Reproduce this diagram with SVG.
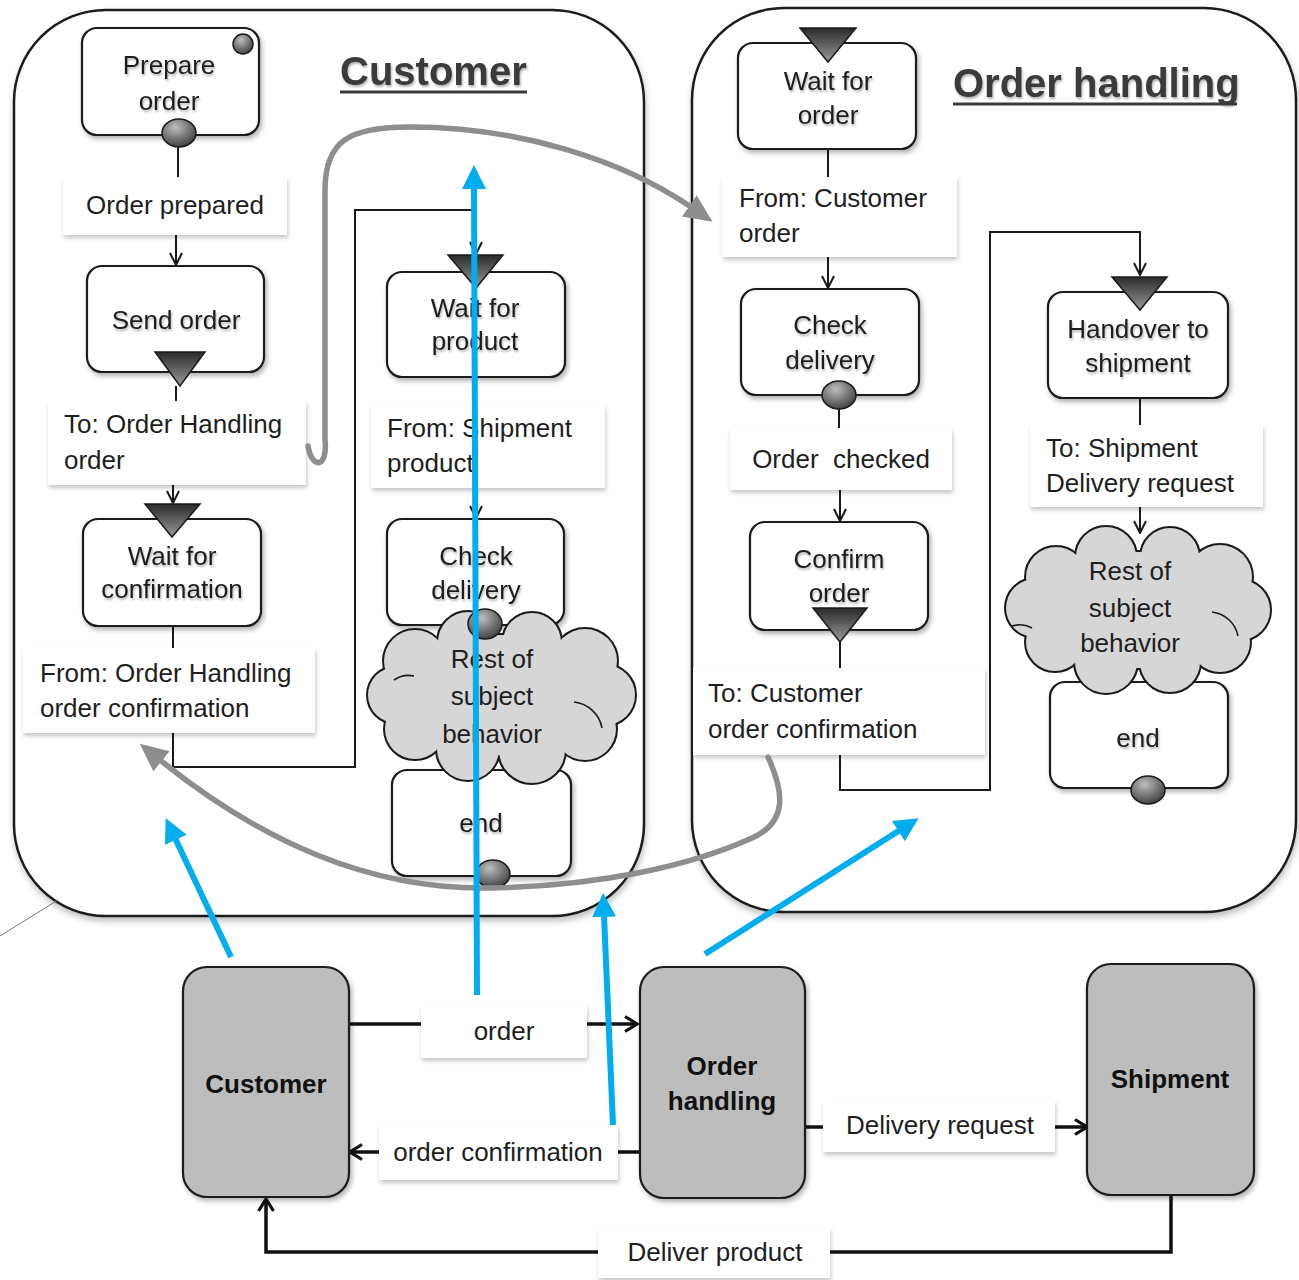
<svg xmlns="http://www.w3.org/2000/svg" width="1299" height="1280" viewBox="0 0 1299 1280">
<defs>
<style>
 text { font-family: "Liberation Sans", Arial, sans-serif; fill:#1e1e1e; font-size:26px; }
 .c { text-anchor: middle; }
 .title { font-size:40px; font-weight:bold; fill:#3a3a3a; filter:url(#txtShadow); }
 .ntext { filter:url(#txtShadow); }
 .bold { font-weight:bold; fill:#111; }
 .lane { fill:#fff; stroke:#1a1a1a; stroke-width:2.5; filter:url(#laneShadow); }
 .state { fill:#fff; stroke:#1a1a1a; stroke-width:2.2; filter:url(#soft); }
 .label { fill:#fff; filter:url(#lblShadow); }
 .flow { fill:none; stroke:#1a1a1a; stroke-width:2; }
 .msg { fill:none; stroke:#111; stroke-width:3.5; }
 .subject { fill:#bdbdbd; stroke:#1a1a1a; stroke-width:2.2; filter:url(#soft); }
 .hint { fill:none; stroke:#8e8e8e; stroke-width:5.5; stroke-linecap:round; }
 .map { fill:none; stroke:#00aeef; stroke-width:6; }
 .tri { fill:url(#triGrad); stroke:#1a1a1a; stroke-width:1.5; }
 .dot { fill:url(#dotGrad); stroke:#1a1a1a; stroke-width:1.5; }
 .uline { stroke:#3a3a3a; stroke-width:3; }
 .crease { fill:none; stroke:#1a1a1a; stroke-width:1.6; }
</style>
<filter id="soft" x="-20%" y="-20%" width="140%" height="140%">
 <feDropShadow dx="2" dy="3" stdDeviation="2.5" flood-color="#000" flood-opacity="0.3"/>
</filter>
<filter id="laneShadow" x="-5%" y="-5%" width="110%" height="110%">
 <feDropShadow dx="1" dy="4" stdDeviation="3" flood-color="#000" flood-opacity="0.25"/>
</filter>
<filter id="lblShadow" x="-10%" y="-20%" width="120%" height="150%">
 <feDropShadow dx="1" dy="3" stdDeviation="2" flood-color="#000" flood-opacity="0.22"/>
</filter>
<filter id="txtShadow" x="-10%" y="-30%" width="120%" height="160%">
 <feDropShadow dx="1" dy="2" stdDeviation="1.2" flood-color="#000" flood-opacity="0.3"/>
</filter>
<linearGradient id="triGrad" x1="0" y1="0" x2="0" y2="1">
 <stop offset="0" stop-color="#2a2a2a"/>
 <stop offset="1" stop-color="#9a9a9a"/>
</linearGradient>
<radialGradient id="dotGrad" cx="0.4" cy="0.3" r="0.75">
 <stop offset="0" stop-color="#bdbdbd"/>
 <stop offset="1" stop-color="#3a3a3a"/>
</radialGradient>
<marker id="open" viewBox="0 0 14 14" refX="13" refY="7" markerWidth="14" markerHeight="14" markerUnits="userSpaceOnUse" orient="auto">
 <path d="M1,1 L13,7 L1,13" fill="none" stroke="#1a1a1a" stroke-width="2"/>
</marker>
<marker id="openBold" viewBox="0 0 16 18" refX="14" refY="9" markerWidth="16" markerHeight="18" markerUnits="userSpaceOnUse" orient="auto">
 <path d="M2,1.5 L14,9 L2,16.5" fill="none" stroke="#111" stroke-width="3.2"/>
</marker>
<marker id="grayHead" viewBox="0 0 28 26" refX="2" refY="13" markerWidth="28" markerHeight="26" markerUnits="userSpaceOnUse" orient="auto">
 <path d="M0,0 L28,13 L0,26 z" fill="#8e8e8e"/>
</marker>
<marker id="blueHead" viewBox="0 0 24 24" refX="2" refY="12" markerWidth="24" markerHeight="24" markerUnits="userSpaceOnUse" orient="auto">
 <path d="M0,0 L24,12 L0,24 z" fill="#00aeef"/>
</marker>
<!-- cloud outlines: lobes round an elliptic core, drawn stroked then filled on top -->
<g id="cloudL">
 <circle cx="605" cy="695" r="30"/><circle cx="585" cy="729" r="31"/>
 <circle cx="532" cy="750" r="33"/><circle cx="468" cy="749" r="31"/>
 <circle cx="415" cy="729" r="30"/><circle cx="396" cy="695" r="28"/>
 <circle cx="415" cy="661" r="31"/><circle cx="468" cy="642" r="30"/>
 <circle cx="532" cy="642" r="29"/><circle cx="585" cy="661" r="32"/>
 <ellipse cx="500" cy="695" rx="107" ry="60"/>
</g>
<g id="cloudR">
 <circle cx="1240" cy="610" r="30"/><circle cx="1220" cy="642" r="30"/>
 <circle cx="1170" cy="662" r="30"/><circle cx="1106" cy="662" r="31"/>
 <circle cx="1055" cy="642" r="29"/><circle cx="1035" cy="608" r="29"/>
 <circle cx="1056" cy="577" r="30"/><circle cx="1106" cy="557" r="30"/>
 <circle cx="1170" cy="557" r="29"/><circle cx="1220" cy="577" r="32"/>
 <ellipse cx="1138" cy="610" rx="104" ry="58"/>
</g>
</defs>

<rect width="1299" height="1280" fill="#fff"/>

<!-- subject lanes -->
<g id="lane-customer">
 <rect class="lane" x="14" y="10" width="630" height="906" rx="92"/>
 <text class="title" x="340" y="85">Customer</text>
 <line class="uline" x1="340" y1="92" x2="527" y2="92"/>
</g>
<g id="lane-order-handling">
 <rect class="lane" x="692" y="8" width="604" height="904" rx="92"/>
 <text class="title" x="953" y="97">Order handling</text>
 <line class="uline" x1="953" y1="104" x2="1237" y2="104"/>
</g>
<line x1="0" y1="936" x2="58" y2="900" stroke="#777" stroke-width="1"/>

<!-- state transitions inside the lanes -->
<g id="connectors">
 <line class="flow" x1="178" y1="147" x2="178" y2="177"/>
 <line class="flow" x1="176" y1="235" x2="176" y2="265" marker-end="url(#open)"/>
 <line class="flow" x1="176" y1="386" x2="176" y2="401"/>
 <line class="flow" x1="173" y1="485" x2="173" y2="503" marker-end="url(#open)"/>
 <line class="flow" x1="173" y1="626" x2="173" y2="648"/>
 <path class="flow" d="M173,733 V767 H355 V210 H476 V254" marker-end="url(#open)"/>
 <line class="flow" x1="476" y1="377" x2="476" y2="405"/>
 <line class="flow" x1="476" y1="488" x2="476" y2="518" marker-end="url(#open)"/>

 <line class="flow" x1="828" y1="149" x2="828" y2="177"/>
 <line class="flow" x1="828" y1="257" x2="828" y2="288" marker-end="url(#open)"/>
 <line class="flow" x1="839" y1="409" x2="839" y2="428"/>
 <line class="flow" x1="840" y1="490" x2="840" y2="521" marker-end="url(#open)"/>
 <line class="flow" x1="840" y1="642" x2="840" y2="668"/>
 <path class="flow" d="M840,755 V790 H990 V232 H1140 V275" marker-end="url(#open)"/>
 <line class="flow" x1="1140" y1="398" x2="1140" y2="425"/>
 <line class="flow" x1="1140" y1="507" x2="1140" y2="533" marker-end="url(#open)"/>

 <!-- message exchange between subjects -->
 <line class="msg" x1="349" y1="1024" x2="637" y2="1024" marker-end="url(#openBold)"/>
 <line class="msg" x1="640" y1="1152" x2="350" y2="1152" marker-end="url(#openBold)"/>
 <line class="msg" x1="805" y1="1127" x2="1087" y2="1127" marker-end="url(#openBold)"/>
 <path class="msg" d="M1171,1195 V1252 H266 V1199" marker-end="url(#openBold)"/>
</g>

<!-- Customer behavior -->
<g id="prepare-order">
 <rect class="state" x="82" y="28" width="177" height="107" rx="15"/>
 <text class="c ntext" x="169" y="74">Prepare</text>
 <text class="c ntext" x="169" y="110">order</text>
 <circle class="dot" cx="243" cy="44" r="10"/>
 <ellipse class="dot" cx="179" cy="133" rx="17" ry="14"/>
</g>
<g id="order-prepared">
 <rect class="label" x="63" y="177" width="224" height="58"/>
 <text class="c" x="175" y="214">Order prepared</text>
</g>
<g id="send-order">
 <rect class="state" x="87" y="266" width="177" height="106" rx="15"/>
 <text class="c ntext" x="176" y="329">Send order</text>
 <polygon class="tri" points="155,352 205,352 180,386"/>
</g>
<g id="to-order-handling">
 <rect class="label" x="48" y="401" width="258" height="84"/>
 <text x="64" y="433">To: Order Handling</text>
 <text x="64" y="469">order</text>
</g>
<g id="wait-for-confirmation">
 <rect class="state" x="83" y="519" width="178" height="107" rx="15"/>
 <polygon class="tri" points="145,504 200,504 172,537"/>
 <text class="c ntext" x="172" y="565">Wait for</text>
 <text class="c ntext" x="172" y="598">confirmation</text>
</g>
<g id="from-order-handling">
 <rect class="label" x="23" y="648" width="292" height="85"/>
 <text x="40" y="682">From: Order Handling</text>
 <text x="40" y="717">order confirmation</text>
</g>
<g id="wait-for-product">
 <rect class="state" x="387" y="272" width="178" height="105" rx="15"/>
 <polygon class="tri" points="448,255 503,255 476,288"/>
 <text class="c ntext" x="475" y="317">Wait for</text>
 <text class="c ntext" x="475" y="350">product</text>
</g>
<g id="from-shipment">
 <rect class="label" x="371" y="405" width="234" height="83"/>
 <text x="387" y="437">From: Shipment</text>
 <text x="387" y="472">product</text>
</g>
<g id="check-delivery-customer">
 <rect class="state" x="387" y="519" width="177" height="106" rx="15"/>
 <text class="c ntext" x="476" y="565">Check</text>
 <text class="c ntext" x="476" y="599">delivery</text>
</g>
<g id="end-customer">
 <rect class="state" x="392" y="770" width="179" height="106" rx="15"/>
 <text class="c ntext" x="481" y="832">end</text>
 <ellipse class="dot" cx="493" cy="874" rx="17" ry="14"/>
</g>
<g id="rest-customer">
 <use href="#cloudL" fill="#1a1a1a" stroke="#1a1a1a" stroke-width="4"/>
 <use href="#cloudL" fill="#d6d6d6"/>
 <path class="crease" d="M574,702 A32,32 0 0 1 602,728 M394,680 A26,26 0 0 1 414,676"/>
 <text class="c" x="492" y="668">Rest of</text>
 <text class="c" x="492" y="705">subject</text>
 <text class="c" x="492" y="743">behavior</text>
 <ellipse class="dot" cx="485" cy="624" rx="17" ry="15"/>
</g>

<!-- Order handling behavior -->
<g id="wait-for-order">
 <rect class="state" x="738" y="43" width="178" height="106" rx="15"/>
 <polygon class="tri" points="800,28 856,28 828,62"/>
 <text class="c ntext" x="828" y="90">Wait for</text>
 <text class="c ntext" x="828" y="124">order</text>
</g>
<g id="from-customer">
 <rect class="label" x="722" y="177" width="235" height="80"/>
 <text x="739" y="207">From: Customer</text>
 <text x="739" y="242">order</text>
</g>
<g id="check-delivery-order">
 <rect class="state" x="741" y="289" width="178" height="106" rx="15"/>
 <text class="c ntext" x="830" y="334">Check</text>
 <text class="c ntext" x="830" y="369">delivery</text>
 <ellipse class="dot" cx="839" cy="395" rx="17" ry="14"/>
</g>
<g id="order-checked">
 <rect class="label" x="730" y="428" width="222" height="62"/>
 <text class="c" x="841" y="468" xml:space="preserve">Order  checked</text>
</g>
<g id="confirm-order">
 <rect class="state" x="750" y="522" width="178" height="108" rx="15"/>
 <text class="c ntext" x="839" y="568">Confirm</text>
 <text class="c ntext" x="839" y="602">order</text>
 <polygon class="tri" points="813,608 867,608 840,642"/>
</g>
<g id="to-customer">
 <rect class="label" x="693" y="668" width="292" height="87"/>
 <text x="708" y="702">To: Customer</text>
 <text x="708" y="738">order confirmation</text>
</g>
<g id="handover-to-shipment">
 <rect class="state" x="1048" y="292" width="180" height="106" rx="15"/>
 <polygon class="tri" points="1112,277 1167,277 1140,310"/>
 <text class="c ntext" x="1138" y="338">Handover to</text>
 <text class="c ntext" x="1138" y="372">shipment</text>
</g>
<g id="to-shipment">
 <rect class="label" x="1030" y="425" width="233" height="82"/>
 <text x="1046" y="457">To: Shipment</text>
 <text x="1046" y="492">Delivery request</text>
</g>
<g id="end-order">
 <rect class="state" x="1050" y="682" width="178" height="106" rx="15"/>
 <text class="c ntext" x="1138" y="747">end</text>
 <ellipse class="dot" cx="1148" cy="790" rx="17" ry="14"/>
</g>
<g id="rest-order">
 <use href="#cloudR" fill="#1a1a1a" stroke="#1a1a1a" stroke-width="4"/>
 <use href="#cloudR" fill="#d6d6d6"/>
 <path class="crease" d="M1212,612 A30,30 0 0 1 1238,636 M1012,626 A26,26 0 0 1 1032,628"/>
 <text class="c" x="1130" y="580">Rest of</text>
 <text class="c" x="1130" y="617">subject</text>
 <text class="c" x="1130" y="652">behavior</text>
</g>

<!-- subject interaction diagram -->
<g id="subject-customer">
 <rect class="subject" x="183" y="967" width="166" height="230" rx="24"/>
 <text class="c bold" x="266" y="1093">Customer</text>
</g>
<g id="subject-order-handling">
 <rect class="subject" x="640" y="967" width="165" height="231" rx="24"/>
 <text class="c bold" x="722" y="1075">Order</text>
 <text class="c bold" x="722" y="1110">handling</text>
</g>
<g id="subject-shipment">
 <rect class="subject" x="1087" y="964" width="167" height="231" rx="24"/>
 <text class="c bold" x="1170" y="1088">Shipment</text>
</g>
<g id="msg-order">
 <rect class="label" x="421" y="1005" width="166" height="53"/>
 <text class="c" x="504" y="1040">order</text>
</g>
<g id="msg-order-confirmation">
 <rect class="label" x="379" y="1125" width="239" height="55"/>
 <text class="c" x="498" y="1161">order confirmation</text>
</g>
<g id="msg-delivery-request">
 <rect class="label" x="823" y="1101" width="232" height="51"/>
 <text class="c" x="940" y="1134">Delivery request</text>
</g>
<g id="msg-deliver-product">
 <rect class="label" x="598" y="1228" width="232" height="50"/>
 <text class="c" x="715" y="1261">Deliver product</text>
</g>

<!-- message routes drawn across the lanes -->
<g id="message-routes">
 <path class="hint" d="M308,446 C312,470 328,468 325,440 L325,190 C325,140 350,127 410,127 C520,127 622,160 691,207" marker-end="url(#grayHead)"/>
 <path class="hint" d="M768,757 C784,792 788,822 752,838 C690,866 600,886 490,888 C370,890 262,842 160,760" marker-end="url(#grayHead)"/>
</g>
<g id="subject-mapping">
 <line class="map" x1="231" y1="957" x2="175" y2="838" marker-end="url(#blueHead)"/>
 <line class="map" x1="477" y1="995" x2="474" y2="187" marker-end="url(#blueHead)"/>
 <line class="map" x1="613" y1="1125" x2="604" y2="915" marker-end="url(#blueHead)"/>
 <line class="map" x1="705" y1="954" x2="900" y2="830" marker-end="url(#blueHead)"/>
</g>
</svg>
